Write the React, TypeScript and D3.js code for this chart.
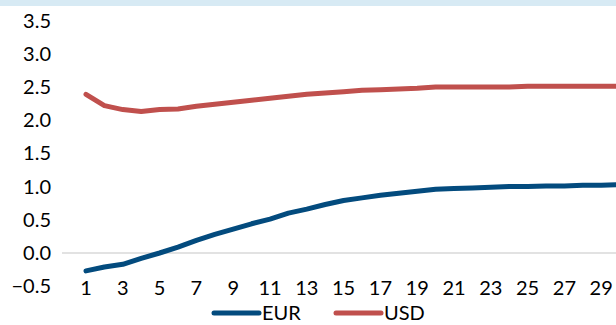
import React from "react";
import * as d3 from "d3";

const days = d3.range(1, 31);
const eur = [-0.27, -0.21, -0.17, -0.08, 0.0, 0.09, 0.19, 0.28, 0.36, 0.44, 0.51, 0.6, 0.66, 0.73, 0.79, 0.83, 0.87, 0.9, 0.93, 0.96, 0.97, 0.98, 0.99, 1.0, 1.0, 1.01, 1.01, 1.02, 1.02, 1.03];
const usd = [2.39, 2.22, 2.16, 2.13, 2.16, 2.17, 2.21, 2.24, 2.27, 2.3, 2.33, 2.36, 2.39, 2.41, 2.43, 2.45, 2.46, 2.47, 2.48, 2.5, 2.5, 2.5, 2.5, 2.5, 2.51, 2.51, 2.51, 2.51, 2.51, 2.51];
const yTicks = [-0.5, 0, 0.5, 1, 1.5, 2, 2.5, 3, 3.5];
const xTickLabels = days.filter((d) => d % 2 === 1);
const seriesNames = ["EUR", "USD"];
const colors = ["#034b7e", "#c0504d"];

export default function App() {
  const W = 616, H = 325;
  const x = d3.scaleLinear().domain([1, 30]).range([86, 619.6]);
  const y = d3.scaleLinear().domain([-0.5, 3.5]).range([286.2, 20.6]);
  const line = d3.line<number>().x((_, i) => x(days[i])).y((v) => y(v));
  const font = "Lato, 'Open Sans', sans-serif";
  const series = [eur, usd];
  const legendX = [214, 336];
  return (
    <svg width={W} height={H} style={{ position: "absolute", left: 0, top: 0, background: "#fff" }}>
      <rect x={0} y={0} width={W} height={6} fill="#d7eaf4" />
      <line x1={62} x2={W} y1={y(0)} y2={y(0)} stroke="#d9d9d9" strokeWidth={1.5} />
      {yTicks.map((t) => (
        <text key={t} x={51} y={y(t)} dy="0.35em" textAnchor="end" fontFamily={font} fontSize={20} fill="#000">
          {d3.format(".1f")(t)}
        </text>
      ))}
      {xTickLabels.map((d) => (
        <text key={d} x={x(d)} y={288} dy="0.35em" textAnchor="middle" fontFamily={font} fontSize={20} fill="#000">
          {d}
        </text>
      ))}
      {series.map((s, i) => (
        <path key={i} d={line(s) || ""} fill="none" stroke={colors[i]} strokeWidth={5} strokeLinejoin="round" strokeLinecap="round" />
      ))}
      {seriesNames.map((n, i) => (
        <g key={n}>
          <line x1={legendX[i]} x2={legendX[i] + 45} y1={313} y2={313} stroke={colors[i]} strokeWidth={5} strokeLinecap="round" />
          <text x={legendX[i] + 48} y={313} dy="0.35em" fontFamily={font} fontSize={20} fill="#000">{n}</text>
        </g>
      ))}
    </svg>
  );
}
